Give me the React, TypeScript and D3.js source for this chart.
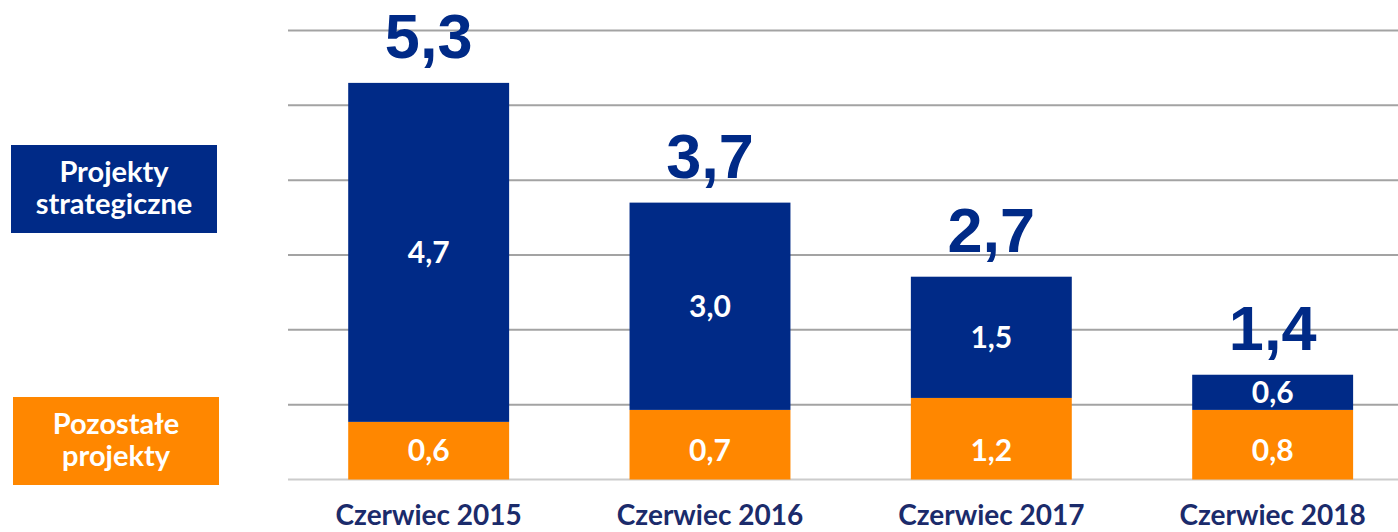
import React from "react";
import * as d3 from "d3";

const categories = ["Czerwiec 2015", "Czerwiec 2016", "Czerwiec 2017", "Czerwiec 2018"];
// segment heights as drawn in the picture (in units of the value axis)
const otherValues = [0.77, 0.93, 1.09, 0.93];
const strategicValues = [4.53, 2.77, 1.62, 0.47];
const strategicLabels = ["4,7", "3,0", "1,5", "0,6"];
const otherLabels = ["0,6", "0,7", "1,2", "0,8"];
const totalLabels = ["5,3", "3,7", "2,7", "1,4"];
const yTicks = [0, 1, 2, 3, 4, 5, 6];
const legendItems = [
  { lines: ["Projekty", "strategiczne"], color: "#002A87" },
  { lines: ["Pozostałe", "projekty"], color: "#FF8700" },
];

const W = 1398;
const H = 532;
const BLUE = "#002A87";
const ORANGE = "#FF8700";
const NAVY = "#1B2B6B";
const LABEL_FONT = "Lato, 'Open Sans', sans-serif";

export default function App() {
  const y = d3.scaleLinear().domain([0, 6]).range([479.5, 30.5]);
  const x = d3
    .scaleBand<string>()
    .domain(categories)
    .range([288, 288 + 4 * 281.33])
    .paddingInner(0.428)
    .paddingOuter(0.214);
  const bw = x.bandwidth();

  return (
    <svg
      width={W}
      height={H}
      style={{ position: "absolute", left: 0, top: 0, background: "#fff" }}
    >
      {yTicks.map((t) => (
        <line
          key={t}
          x1={288}
          x2={W}
          y1={y(t)}
          y2={y(t)}
          stroke={t === 0 ? "#cccccc" : "#a3a3a3"}
          strokeWidth={2}
        />
      ))}

      {categories.map((c, i) => {
        const x0 = x(c)!;
        const o = otherValues[i];
        const s = strategicValues[i];
        const cx = x0 + bw / 2;
        const topTotal = y(o + s);
        return (
          <g key={c}>
            <rect x={x0} y={y(o)} width={bw} height={y(0) - y(o)} fill={ORANGE} />
            <rect x={x0} y={y(o + s)} width={bw} height={y(o) - y(o + s)} fill={BLUE} />
            <text
              x={cx}
              y={(y(o) + y(o + s)) / 2}
              dy="0.36em"
              textAnchor="middle"
              fill="#fff"
              fontFamily={LABEL_FONT}
              fontWeight={700}
              fontSize={30}
            >
              {strategicLabels[i]}
            </text>
            <text
              x={cx}
              y={y(0) - 29}
              dy="0.36em"
              textAnchor="middle"
              fill="#fff"
              fontFamily={LABEL_FONT}
              fontWeight={700}
              fontSize={30}
            >
              {otherLabels[i]}
            </text>
            <text
              x={cx}
              y={topTotal - 25}
              textAnchor="middle"
              fill={BLUE}
              fontFamily="'Liberation Sans', Arial, sans-serif"
              fontWeight={700}
              fontSize={63}
            >
              {totalLabels[i]}
            </text>
            <text
              x={cx}
              y={525}
              textAnchor="middle"
              fill={NAVY}
              fontFamily={LABEL_FONT}
              fontWeight={700}
              fontSize={28}
            >
              {c}
            </text>
          </g>
        );
      })}

      {legendItems.map((item, i) => {
        const bx = i === 0 ? 11 : 13;
        const by = i === 0 ? 145 : 397;
        return (
          <g key={i}>
            <rect x={bx} y={by} width={206} height={88} fill={item.color} />
            {item.lines.map((ln, j) => (
              <text
                key={j}
                x={bx + 103}
                y={by + 37 + j * 32}
                textAnchor="middle"
                fill="#fff"
                fontFamily={LABEL_FONT}
                fontWeight={700}
                fontSize={29}
              >
                {ln}
              </text>
            ))}
          </g>
        );
      })}
    </svg>
  );
}
